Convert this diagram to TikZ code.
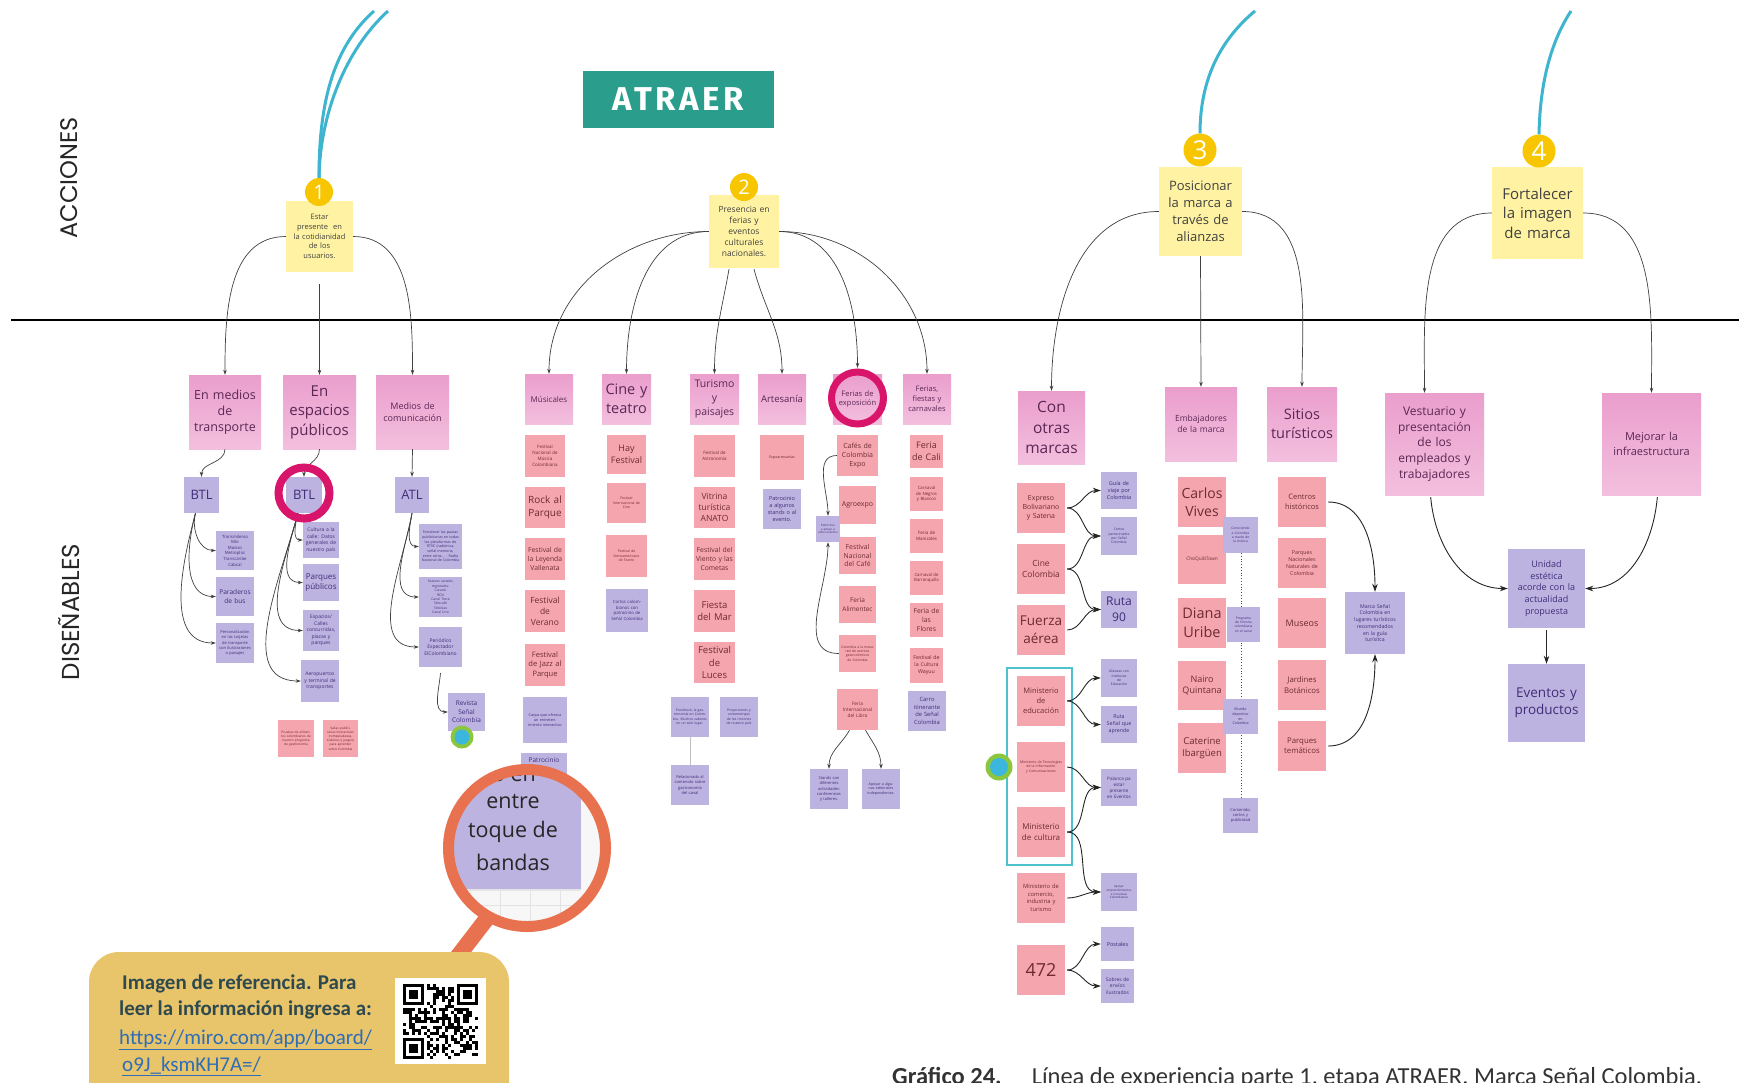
\documentclass[tikz,border=0pt]{standalone}
\usepackage{fontspec}
\setmainfont{Open Sans}
\newfontfamily\capf{Carlito}
\newfontfamily\sidef{Poppins}
\newfontfamily\titf[LetterSpace=11]{Fira Sans}
\usetikzlibrary{arrows.meta,calc}
\definecolor{yelc}{HTML}{FFF3A3}
\definecolor{pnkc}{HTML}{EDA6D2}
\definecolor{pnktop}{HTML}{EA9ECC}
\definecolor{pnkbot}{HTML}{F3BFDE}
\definecolor{pnkt}{HTML}{5B2755}
\definecolor{salc}{HTML}{F5A5AD}
\definecolor{salt}{HTML}{6E2B33}
\definecolor{purc}{HTML}{BDB3E0}
\definecolor{purt}{HTML}{3F2D78}
\definecolor{goldc}{HTML}{F7C600}
\definecolor{tealline}{HTML}{3DB5CE}
\definecolor{magc}{HTML}{D9146B}
\definecolor{atraerc}{HTML}{2A9D8C}
\definecolor{boxteal}{HTML}{4CC2CF}
\definecolor{orangec}{HTML}{E8714F}
\definecolor{calloutc}{HTML}{E8C46B}
\definecolor{calltext}{HTML}{2E4A4F}
\definecolor{urlc}{HTML}{2F6DB5}
\definecolor{greenc}{HTML}{8CC63F}
\definecolor{bluec}{HTML}{3BB6DC}
\tikzset{
 stickynote/.style={align=center, inner xsep=2pt, inner ysep=1pt},
 yel/.style={stickynote, fill=yelc, text=black!75},
 pnk/.style={stickynote, top color=pnktop, bottom color=pnkbot, text=pnkt},
 sal/.style={stickynote, fill=salc, text=salt},
 pur/.style={stickynote, fill=purc, text=purt},
 arr/.style={draw=black!75, line width=0.7pt, -{Stealth[length=5pt,width=3.5pt]}},
 arrb/.style={draw=black!85, line width=0.9pt, -{Stealth[length=8pt,width=5.5pt]}, shorten <=2pt},
 numc/.style={circle, fill=goldc, text=white, inner sep=0pt},
 ring/.style={circle, draw=magc, line width=8pt, inner sep=0pt, minimum size=51pt},
 tl/.style={draw=tealline, line width=3pt},
}
\newcommand\nt[8]{%
 \pgfmathsetmacro\ntw{#5-(#3)}%
 \pgfmathsetmacro\nth{#6-(#4)}%
 \pgfmathsetmacro\ntx{(#3+#5)/2}%
 \pgfmathsetmacro\nty{(#4+#6)/2}%
 \pgfmathsetmacro\nttw{#5-(#3)-4}%
 \pgfmathsetmacro\ntbs{#7*1.3}%
 \node[#1, minimum width=\ntw pt, minimum height=\nth pt, text width=\nttw pt, font=\fontsize{#7}{\ntbs}\selectfont] (#2) at (\ntx,\nty) {#8};}
\begin{document}
\begin{tikzpicture}[x=1pt,y=-1pt]
\useasboundingbox (0,0) rectangle (1742,1082);
\fill[white] (0,0) rectangle (1742,1082);
% divider
\draw[line width=2.5pt] (11,320) -- (1739,320);
% titles
\node[fill=atraerc, text=white, minimum width=191pt, minimum height=57pt, inner sep=0pt, font=\titf\bfseries\fontsize{33}{36}\selectfont] (atraer) at (678.5,99.5) {ATRAER};
\node[rotate=90, font=\sidef\fontsize{24}{28}\selectfont, text=black!85] (acc) at (69,178) {ACCIONES};
\node[rotate=90, font=\sidef\fontsize{24.5}{28}\selectfont, text=black!85] (dis) at (69,612) {DISEÑABLES};

% ================= SECTION 1 =================
\nt{yel}{n1}{286}{201}{353}{272}{7.5}{Estar\\presente\ \ en\\la cotidianidad\\de los\\usuarios.}
\nt{pnk}{p11}{189}{375}{261}{449}{12.5}{En medios\\de\\transporte}
\nt{pnk}{p12}{283}{375}{356}{449}{15}{En\\espacios\\públicos}
\nt{pnk}{p13}{376}{375}{449}{449}{9}{Medios de\\comunicación}
\nt{pur}{q11}{184}{477}{219}{513}{13}{BTL}
\nt{pur}{q12}{286}{477}{322}{513}{13}{BTL}
\nt{pur}{q13}{395}{477}{429}{513}{13}{ATL}
\nt{pur}{r111}{216}{531}{254}{570}{4.3}{Transmilenio\\Mio\\Masivo\\Metroplús\\Transcaribe\\Cabcal}
\nt{pur}{r112}{216}{577}{254}{616}{6.6}{Paraderos\\de bus}
\nt{pur}{r113}{216}{623}{254}{663}{4}{Personalización en las tarjetas de transporte con ilustraciones o paisajes}
\nt{pur}{r121}{303}{522}{339}{558}{5}{Cultura a la calle: Datos generales de nuestro país}
\nt{pur}{r122}{303}{564}{339}{601}{8}{Parques\\públicos}
\nt{pur}{r123}{303}{610}{339}{651}{5}{Espacios/ Calles concurridas, plazas y parques}
\nt{pur}{r124}{301}{660}{339}{702}{5}{Aeropuertos y terminal de transportes}
\nt{pur}{r131}{419}{524}{462}{569}{3.6}{Fortalecer las pautas publicitarias en todas las plataformas de RTVC (radiónica, señal memoria, entre otros... - Radio Nacional de Colombia}
\nt{pur}{r132}{419}{577}{462}{617}{3.4}{Nuevos canales regionales:\\Caracol\\RCN\\Canal Trece\\Telecafé\\Teleislas\\Canal Uno}
\nt{pur}{r133}{419}{627}{462}{667}{5}{Periódico\\Espectador\\ElColombiano}
\nt{pur}{r14}{448}{693}{485}{731}{6.5}{Revista\\Señal\\Colombia}
\nt{sal}{s11}{278}{720}{314}{757}{3.2}{Pruebas de alimentos colombianos de nuestro programa de gastronomía}
\nt{sal}{s12}{323}{720}{358}{757}{3.2}{Vallas publicitarias interactivas (rompecabezas, sudokus y juegos) para aprender sobre Colombia}

% ================= SECTION 2 =================
\nt{yel}{n2}{709}{195}{779}{268}{8.5}{Presencia en\\ferias y\\eventos\\culturales\\nacionales.}
\nt{pnk}{p21}{525}{374}{573}{424}{8}{Músicales}
\nt{pnk}{p22}{602}{374}{651}{424}{14.5}{Cine y\\teatro}
\nt{pnk}{p23}{690}{374}{739}{424}{10.5}{Turismo\\y\\paisajes}
\nt{pnk}{p24}{758}{374}{806}{424}{9.5}{Artesanía}
\nt{pnk}{p25}{833}{374}{882}{424}{7.5}{Ferias de\\exposición}
\nt{pnk}{p26}{903}{374}{951}{424}{7.5}{Ferias,\\fiestas y\\carnavales}

\nt{sal}{s211}{525}{435}{565}{477}{4.5}{Festival\\Nacional de\\Música\\Colombiana}
\nt{sal}{s212}{525}{487}{565}{528}{10}{Rock al\\Parque}
\nt{sal}{s213}{525}{538}{565}{580}{6.8}{Festival de\\la Leyenda\\Vallenata}
\nt{sal}{s214}{525}{590}{565}{632}{8.5}{Festival\\de\\Verano}
\nt{sal}{s215}{525}{644}{565}{686}{7.5}{Festival\\de Jazz al\\Parque}
\nt{pur}{u211}{523}{697}{567}{743}{3.8}{Carpa que ofrezca un entretenimiento interactivo}
\fill[purc] (521,753) rectangle (567,800);
\node[font=\fontsize{6.5}{8}\selectfont, text=purt, inner sep=0pt] (u212) at (544,760) {Patrocinio};

\nt{sal}{s221}{607}{435}{646}{474}{9}{Hay\\Festival}
\nt{sal}{s222}{607}{483}{646}{523}{3.5}{Festival\\Internacional de\\Cine}
\nt{sal}{s223}{606}{535}{647}{577}{3.5}{Festival de\\Iberoamericano\\de Teatro}
\nt{pur}{u221}{606}{589}{648}{632}{4.3}{Cortos colombianos con patrocinio de Señal Colombia}

\nt{sal}{s231}{694}{435}{735}{477}{4.5}{Festival de\\Astronomía}
\nt{sal}{s232}{694}{487}{735}{528}{8.5}{Vitrina\\turística\\ANATO}
\nt{sal}{s233}{694}{538}{735}{580}{6.8}{Festival del\\Viento y las\\Cometas}
\nt{sal}{s234}{694}{590}{735}{632}{9.5}{Fiesta\\del Mar}
\nt{sal}{s235}{694}{642}{735}{683}{9.5}{Festival\\de\\Luces}
\nt{pur}{u231}{671}{697}{709}{737}{3.4}{Foodtruck, la gastronomía en Colombia. Muchos sabores en un solo lugar.}
\nt{pur}{u232}{720}{697}{758}{737}{3.4}{Proyecciones y cortometrajes de los rincones de nuestro país}
\nt{pur}{u233}{671}{765}{709}{805}{4}{Relacionado al contenido sobre gastronomía del canal}

\nt{sal}{s241}{760}{435}{804}{480}{3.6}{Expoartesanías}
\nt{pur}{u241}{763}{489}{801}{529}{5.5}{Patrocinio\\a algunos\\stands o al\\evento.}

\nt{sal}{s251}{837}{435}{878}{476}{7}{Cafés de\\Colombia\\Expo}
\nt{sal}{s252}{839}{486}{876}{524}{7}{Agroexpo}
\nt{sal}{s253}{839}{537}{876}{574}{6.8}{Festival\\Nacional\\del Café}
\nt{sal}{s254}{839}{586}{876}{623}{6.5}{Feria\\Alimentec}
\nt{sal}{s255}{839}{635}{876}{672}{3.4}{Colombia a la mesa: red de eventos gastronómicos de Colombia}
\nt{sal}{s256}{837}{689}{878}{730}{4.8}{Feria\\Internacional\\del Libro}
\nt{pur}{u251}{816}{516}{840}{542}{3}{Patrocinio y apoyo a estos eventos}
\nt{pur}{u252}{810}{769}{848}{809}{4}{Stands con diferentes actividades: conferencias y talleres.}
\nt{pur}{u253}{862}{769}{900}{809}{3.6}{Apoyar a algunas editoriales independientes.}

\nt{sal}{s261}{910}{435}{943}{468}{9}{Feria\\de Cali}
\nt{sal}{s262}{910}{477}{943}{511}{4.3}{Carnaval\\de Negros\\y Blancos}
\nt{sal}{s263}{910}{519}{943}{553}{4.5}{Feria de\\Manizales}
\nt{sal}{s264}{910}{561}{943}{595}{4.3}{Carnaval de\\Barranquilla}
\nt{sal}{s265}{910}{603}{943}{637}{6.8}{Feria de\\las\\Flores}
\nt{sal}{s266}{910}{648}{943}{683}{5.3}{Festival de\\la Cultura\\Wayuu}
\nt{pur}{u261}{908}{691}{946}{731}{5.8}{Carro\\itinerante\\de Señal\\Colombia}

% ================= SECTION 3 =================
\nt{yel}{n3}{1159}{167}{1242}{256}{13}{Posicionar\\la marca a\\través de\\alianzas}
\nt{pnk}{p31}{1018}{391}{1085}{464}{15.5}{Con\\otras\\marcas}
\nt{pnk}{p32}{1165}{387}{1237}{461}{8.5}{Embajadores\\de la marca}
\nt{pnk}{p33}{1267}{387}{1337}{461}{14.5}{Sitios\\turísticos}

\draw[boxteal, line width=1.6pt] (1007,668) rectangle (1072,865);
\nt{sal}{s311}{1017}{483}{1065}{533}{7}{Expreso\\Bolivariano\\y Satena}
\nt{sal}{s312}{1017}{544}{1065}{594}{8.5}{Cine\\Colombia}
\nt{sal}{s313}{1017}{605}{1065}{655}{13.5}{Fuerza\\aérea}
\nt{sal}{s314}{1017}{676}{1065}{726}{7.5}{Ministerio\\de\\educación}
\nt{sal}{s315}{1017}{742}{1065}{792}{3.5}{Ministerio de Tecnologías de la Información y Comunicaciones}
\nt{sal}{s316}{1017}{807}{1065}{857}{8}{Ministerio\\de cultura}
\nt{sal}{s317}{1017}{873}{1065}{923}{5.8}{Ministerio de\\comercio,\\industria y\\turismo}
\nt{sal}{s318}{1017}{945}{1065}{995}{18}{472}
\nt{pur}{u311}{1101}{472}{1137}{509}{5.5}{Guía de\\viaje por\\Colombia}
\nt{pur}{u312}{1101}{517}{1137}{555}{3.4}{Cortos\\patrocinados\\por Señal\\Colombia}
\nt{pur}{u313}{1101}{591}{1137}{628}{12}{Ruta\\90}
\nt{pur}{u314}{1101}{659}{1137}{697}{3.4}{Alianzas con\\Institutos\\de\\Educación}
\nt{pur}{u315}{1101}{706}{1137}{743}{5.3}{Ruta\\Señal que\\aprende}
\nt{pur}{u316}{1101}{769}{1137}{806}{4.6}{Palanca pa\\estar\\presente\\en Eventos}
\nt{pur}{u317}{1101}{873}{1137}{911}{3}{Apoyar\\emprendimientos\\e iniciativas\\Colombianas}
\nt{pur}{u318}{1101}{927}{1134}{961}{5.5}{Postales}
\nt{pur}{u319}{1101}{969}{1134}{1003}{5}{Sobres de\\envíos\\ilustrados}

\nt{sal}{s321}{1178}{477}{1226}{527}{14}{Carlos\\Vives}
\nt{sal}{s322}{1178}{535}{1226}{584}{4.8}{ChoQuibTown}
\nt{sal}{s323}{1178}{598}{1226}{648}{14.5}{Diana\\Uribe}
\nt{sal}{s324}{1178}{661}{1226}{710}{9}{Nairo\\Quintana}
\nt{sal}{s325}{1178}{723}{1226}{773}{9.5}{Caterine\\Ibargüen}
\draw[black!70, line width=0.8pt, dotted] (1241,553) -- (1241,798);
\nt{pur}{u321}{1223}{517}{1258}{553}{3.3}{Conociendo\\a Colombia\\a través de\\la música}
\nt{pur}{u322}{1227}{607}{1260}{642}{3.3}{Programa\\de historia\\colombiana\\en el canal}
\nt{pur}{u323}{1223}{699}{1258}{734}{3.6}{Mundo\\deportivo\\en\\Colombia}
\nt{pur}{u324}{1223}{798}{1258}{833}{4}{Contenido,\\cortos y\\publicidad}

\nt{sal}{s331}{1278}{477}{1326}{527}{7.5}{Centros\\históricos}
\nt{sal}{s332}{1278}{538}{1326}{588}{5.3}{Parques\\Nacionales\\Naturales de\\Colombia}
\nt{sal}{s333}{1278}{598}{1326}{648}{9}{Museos}
\nt{sal}{s334}{1278}{660}{1326}{710}{7.8}{Jardines\\Botánicos}
\nt{sal}{s335}{1278}{721}{1326}{771}{7.8}{Parques\\temáticos}
\nt{pur}{u331}{1345}{592}{1405}{654}{5.2}{Marca Señal\\Colombia en\\lugares turísticos\\recomendados\\en la guía\\turísitca}

% ================= SECTION 4 =================
\nt{yel}{n4}{1492}{167}{1583}{259}{15}{Fortalecer\\la imagen\\de marca}
\nt{pnk}{p41}{1385}{393}{1484}{495}{12}{Vestuario y\\presentación\\de los\\empleados y\\trabajadores}
\nt{pnk}{p42}{1602}{393}{1701}{495}{11}{Mejorar la\\infraestructura}
\nt{pur}{u41}{1508}{549}{1585}{628}{9}{Unidad\\estética\\acorde con la\\actualidad\\propuesta}
\nt{pur}{u42}{1508}{664}{1585}{742}{13.5}{Eventos y\\productos}

% number circles + teal lines
\node[numc, minimum size=28pt, font=\fontsize{20}{20}\selectfont] (c1) at (319,192) {1};
\node[numc, minimum size=28pt, font=\fontsize{20}{20}\selectfont] (c2) at (744,187) {2};
\node[numc, minimum size=33pt, font=\fontsize{26}{26}\selectfont] (c3) at (1200,150) {3};
\node[numc, minimum size=33pt, font=\fontsize{26}{26}\selectfont] (c4) at (1539,151) {4};
\coordinate (t1a) at (374,11);
\coordinate (t1b) at (388,11);
\coordinate (t3) at (1255,11);
\coordinate (t4) at (1571,11);
\draw[tl] (c1.north) .. controls (319,110) and (330,50) .. (t1a);
\draw[tl] (c1.north) .. controls (320,115) and (345,50) .. (t1b);
\draw[tl] (c3.north) .. controls (1200,80) and (1220,40) .. (t3);
\draw[tl] (c4.north) .. controls (1540,80) and (1552,40) .. (t4);

% ---- connectors section 1
\draw[arr] (n1.west) to[out=180,in=90] (p11.north);
\draw[arr, shorten <=12pt] (n1.south) -- (p12.north);
\draw[arr] (n1.east) to[out=0,in=90] (p13.north);
\draw[arr] (p11.south) to[out=-90,in=90] (q11.north);
\draw[arr] (p12.south) to[out=-90,in=90] (q12.north);
\draw[arr] (p13.south) -- (q13.north);
\foreach \t in {r111,r112,r113}{\draw[arr] ($(q11.south)+(-6,0)$) to[out=-105,in=180] (\t.west);}
\foreach \t in {r121,r122,r123,r124}{\draw[arr] ($(q12.south)+(-6,0)$) to[out=-105,in=180] (\t.west);}
\foreach \t in {r131,r132,r133}{\draw[arr] (q13.south) to[out=-100,in=180] (\t.west);}
\draw[arr] ($(r133.south)+(0,6)$) to[out=-95,in=180] (r14.west);

% ---- connectors section 2
\draw[arr] (n2.west) to[out=180,in=90] (p21.north);
\draw[arr] (n2.west) to[out=180,in=90] (p22.north);
\draw[arr] ($(n2.south)+(-15,1)$) to[out=-100,in=90] (p23.north);
\draw[arr] ($(n2.south)+(10,1)$) to[out=-75,in=90] (p24.north);
\draw[arr] (n2.east) to[out=0,in=90] ($(p25.north)+(0,-6)$);
\draw[arr] (n2.east) to[out=0,in=90] (p26.north);
\draw[black!25, line width=0.8pt] (u231.south) -- (u233.north);
\draw[arr] (s251.west) to[out=180,in=90] (u251.north);
\draw[arr] (s255.west) to[out=180,in=-90] (u251.south);
\draw[arr] ($(s256.south)+(-8,0)$) to[out=-120,in=90] (u252.north);
\draw[arr] ($(s256.south)+(8,0)$) to[out=-60,in=90] (u253.north);

% ---- connectors section 3
\draw[arr] (n3.west) to[out=180,in=90] (p31.north);
\draw[arr] (n3.south) -- (p32.north);
\draw[arr] (n3.east) to[out=0,in=90] (p33.north);
\draw[arrb] (s311.east) to[out=0,in=180] (u311.west);
\draw[arrb] (s311.east) to[out=0,in=180] (u312.west);
\draw[arrb] (s312.east) to[out=0,in=180] (u312.west);
\draw[arrb] (s312.east) to[out=0,in=180] (u313.west);
\draw[arrb] (s313.east) to[out=0,in=180] (u313.west);
\draw[arrb] (s314.east) to[out=0,in=180] (u314.west);
\draw[arrb] (s314.east) to[out=0,in=180] (u315.west);
\draw[arrb] (s315.east) to[out=0,in=180] (u316.west);
\draw[arrb] (s316.east) to[out=0,in=180] (u316.west);
\draw[arrb] (s316.east) to[out=0,in=180] (u317.west);
\draw[arrb] (s317.east) to[out=0,in=180] (u317.west);
\draw[arrb] (s318.east) to[out=0,in=180] (u318.west);
\draw[arrb] (s318.east) to[out=0,in=180] (u319.west);
\draw[arrb] (s331.east) to[out=0,in=90] (u331.north);
\draw[arrb] (s335.east) to[out=0,in=-90] (u331.south);

% ---- connectors section 4
\draw[arr] (n4.west) to[out=180,in=90] ($(p41.north)+(-10,0)$);
\draw[arr] (n4.east) to[out=0,in=90] (p42.north);
\draw[arrb] ($(p41.south)+(-4,0)$) to[out=-85,in=180] (u41.west);
\draw[arrb] ($(p42.south)+(6,0)$) to[out=-95,in=0] (u41.east);
\draw[arrb] (u41.south) -- (u42.north);

% rings and dots
\node[ring] (ring1) at (304,493) {};
\node[ring, line width=7pt, minimum size=52pt] (ring2) at (857.5,398) {};
\node[circle, fill=greenc, minimum size=23pt, inner sep=0pt] (g1) at (462,737) {};
\node[circle, fill=bluec, minimum size=15pt, inner sep=0pt] (g1b) at (g1) {};
\node[circle, fill=greenc, minimum size=27pt, inner sep=0pt] (g2) at (999,767) {};
\node[circle, fill=bluec, minimum size=18pt, inner sep=0pt] (g2b) at (g2) {};

% magnifier
\begin{scope}
 \clip (527,848) circle (79);
 \fill[gray!6] (440,760) rectangle (615,940);
 \foreach \gx in {470,500,530,560,590}{\draw[gray!22, line width=0.6pt] (\gx,889) -- (\gx,940);}
 \foreach \gy in {905,925}{\draw[gray!22, line width=0.6pt] (440,\gy) -- (615,\gy);}
 \fill[purc] (440,760) rectangle (581,889);
 \draw[black!10, line width=1.5pt] (440,890) -- (581,890);
 \node[font=\fontsize{21.5}{24}\selectfont, text=black!85, inner sep=0pt] (mg0) at (514,776) {o en};
 \node[font=\fontsize{21.5}{24}\selectfont, text=black!85, inner sep=0pt] (mg1) at (513,802) {entre};
 \node[font=\fontsize{21.5}{24}\selectfont, text=black!85, inner sep=0pt] (mg2) at (513,832) {toque de};
 \node[font=\fontsize{21.5}{24}\selectfont, text=black!85, inner sep=0pt] (mg3) at (513,862) {bandas};
\end{scope}
\draw[orangec, line width=11pt] (527,848) circle (78.5);
\draw[orangec, line width=16pt] (488,917) -- (455,960);

% callout
\fill[calloutc, rounded corners=30pt] (89,952) rectangle (509,1120);
\node[anchor=base west, inner sep=0pt, text=calltext, font=\capf\bfseries\fontsize{21}{24}\selectfont] (ct1) at (122,989) {Imagen de referencia. Para};
\node[anchor=base west, inner sep=0pt, text=calltext, font=\capf\bfseries\fontsize{21}{24}\selectfont] (ct2) at (119,1015) {leer la información ingresa a:};
\node[anchor=base west, inner sep=0pt, text=urlc, font=\capf\fontsize{21}{24}\selectfont] (ct3) at (119,1044) {\underline{https://miro.com/app/board/}};
\node[anchor=base west, inner sep=0pt, text=urlc, font=\capf\fontsize{21}{24}\selectfont] (ct4) at (122,1071) {\underline{o9J\_ksmKH7A=/}};
% QR
\fill[white] (395,978) rectangle (486,1064);
\pgfmathsetseed{12}
\foreach \i in {0,...,24}{
 \foreach \j in {0,...,24}{
  \pgfmathtruncatemacro\qrskip{((\i<8)&&(\j<8))||((\i>16)&&(\j<8))||((\i<8)&&(\j>16))}
  \pgfmathrandominteger{\qrr}{0}{1}
  \ifnum\qrskip=0 \ifnum\qrr=1 \fill[black] ({403+3*\i},{984+3*\j}) rectangle ++(3.05,3.05); \fi\fi
 }
}
\foreach \fx/\fy in {403/984, 457/984, 403/1038}{
 \fill[black] (\fx,\fy) rectangle ++(21,21);
 \fill[white] (\fx+3,\fy+3) rectangle ++(15,15);
 \fill[black] (\fx+6,\fy+6) rectangle ++(9,9);
}

% caption
\node[anchor=base west, inner sep=0pt, text=black!80, font=\capf\fontsize{24.5}{28}\selectfont] (cap) at (892,1084) {\textbf{Gráfico 24.}\hspace{30pt}Línea de experiencia parte 1, etapa ATRAER. Marca Señal Colombia.};
\end{tikzpicture}
\end{document}
